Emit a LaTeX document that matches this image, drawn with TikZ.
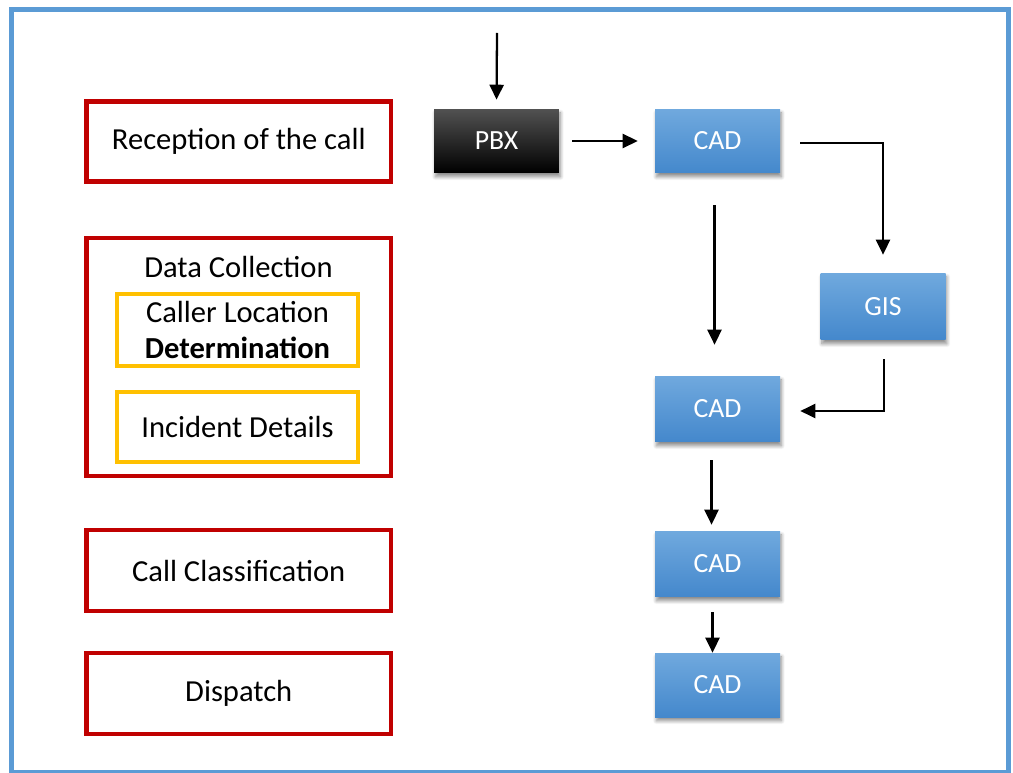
\documentclass[tikz,border=0pt]{standalone}
\usepackage{fontspec}
\setmainfont{Carlito}
\usetikzlibrary{arrows.meta,shadows.blur}

\definecolor{frameblue}{RGB}{91,155,213}
\definecolor{stagered}{RGB}{192,0,0}
\definecolor{partyellow}{RGB}{255,192,0}
\definecolor{cadtop}{RGB}{112,169,222}
\definecolor{cadbottom}{RGB}{68,136,204}

\begin{document}
\begin{tikzpicture}[x=0.02cm,y=-0.02cm,
  stage/.style={draw=stagered,line width=2.8pt,minimum width=6.09cm,
    minimum height=1.6cm,inner sep=0pt,align=center,
    font=\fontsize{17.4}{21}\selectfont},
  part/.style={draw=partyellow,line width=2.2pt,minimum width=4.82cm,
    inner sep=0pt,align=center,font=\fontsize{17.4}{21}\selectfont},
  sysbox/.style={minimum width=2.5cm,minimum height=1.3cm,inner sep=0pt,
    text=white,font=\fontsize{15.8}{18}\selectfont,
    blur shadow={shadow xshift=0.8pt,shadow yshift=-2.2pt,
      shadow blur radius=2pt,shadow blur steps=8,shadow opacity=45}},
  cad/.style={sysbox,top color=cadtop,bottom color=cadbottom},
  pbxbox/.style={sysbox,top color=black!68,middle color=black,bottom color=black},
  flow/.style={line width=1.3pt,-{Triangle[length=8.5pt,width=8pt]}}
]
\useasboundingbox (0,0) rectangle (1013,773);

% outer frame
\draw[frameblue,line width=2.85pt] (11.5,9.5) rectangle (1008.5,772);

% stages of call handling
\node[stage] (reception) at (238.75,141.5) {Reception of the call};
\node[stage,minimum height=4.76cm] (collection) at (238.75,357) {};
\node[font=\fontsize{17.4}{21}\selectfont] (collectiontitle) at (238.5,267) {Data Collection};
\node[part,minimum height=1.44cm] (location) at (237.5,330)
  {Caller Location\\\textbf{Determination}};
\node[part,minimum height=1.4cm] (incident) at (237.5,427) {Incident Details};
\node[stage,minimum height=1.62cm] (classification) at (238.75,570.5) {Call Classification};
\node[stage,minimum height=1.62cm] (dispatch) at (238.75,693.5) {Dispatch};

% systems
\node[pbxbox,minimum height=1.28cm] (pbx) at (496.5,141) {PBX};
\node[cad,minimum height=1.28cm] (cad1) at (717.5,141) {CAD};
\node[cad,minimum height=1.34cm] (gis) at (883,306.5) {GIS};
\node[cad,minimum height=1.32cm] (cad2) at (717.5,409) {CAD};
\node[cad,minimum height=1.32cm] (cad3) at (717.5,564) {CAD};
\node[cad,minimum height=1.28cm] (cad4) at (717.5,685) {CAD};

% flow between systems
\coordinate (callin) at (497,33);
\draw[flow,shorten >=0.18cm] (callin) -- (pbx.north);
\draw[flow,shorten <=0.26cm,shorten >=0.34cm] (pbx.east) -- (cad1.west);
\draw[flow,shorten <=0.4cm,shorten >=0.36cm] ([yshift=-0.04cm]cad1.east) -| (gis.north);
\draw[flow,shorten <=0.64cm,shorten >=0.62cm] ([xshift=-0.06cm]cad1.south) -- ([xshift=-0.06cm]cad2.north);
\draw[flow,shorten <=0.38cm,shorten >=0.4cm] ([xshift=0.02cm]gis.south) |- ([yshift=-0.04cm]cad2.east);
\draw[flow,shorten <=0.36cm,shorten >=0.12cm] ([xshift=-0.12cm]cad2.south) -- ([xshift=-0.12cm]cad3.north);
\draw[flow,shorten <=0.3cm] ([xshift=-0.1cm]cad3.south) -- ([xshift=-0.1cm]cad4.north);
\end{tikzpicture}
\end{document}
